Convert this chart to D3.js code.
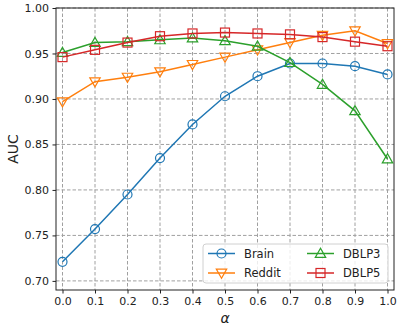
<!DOCTYPE html>
<html>
<head>
<meta charset="utf-8">
<script src="https://cdn.jsdelivr.net/npm/d3@7"></script>
<style>
  body { margin: 0; background: #fff; }
  text { font-family: "DejaVu Sans", sans-serif; fill: #222; }
</style>
</head>
<body>
<div id="chart"></div>
<script>
// data
var alphas = [0.0, 0.1, 0.2, 0.3, 0.4, 0.5, 0.6, 0.7, 0.8, 0.9, 1.0];
var brain  = [0.721, 0.757, 0.795, 0.835, 0.872, 0.903, 0.925, 0.939, 0.939, 0.936, 0.927];
var reddit = [0.897, 0.919, 0.924, 0.930, 0.938, 0.946, 0.954, 0.962, 0.970, 0.975, 0.961];
var dblp3  = [0.951, 0.962, 0.963, 0.965, 0.967, 0.964, 0.958, 0.940, 0.916, 0.887, 0.834];
var dblp5  = [0.946, 0.954, 0.962, 0.969, 0.972, 0.973, 0.972, 0.971, 0.968, 0.963, 0.958];
var xTicks = [0.0, 0.1, 0.2, 0.3, 0.4, 0.5, 0.6, 0.7, 0.8, 0.9, 1.0];
var yTicks = [0.70, 0.75, 0.80, 0.85, 0.90, 0.95, 1.00];
var seriesNames = ["Brain", "Reddit", "DBLP3", "DBLP5"];

var series = [
  {name: "Brain",  values: brain,  color: "#1f77b4", marker: "circle"},
  {name: "Reddit", values: reddit, color: "#ff7f0e", marker: "tridown"},
  {name: "DBLP3",  values: dblp3,  color: "#2ca02c", marker: "triup"},
  {name: "DBLP5",  values: dblp5,  color: "#d62728", marker: "square"}
];

var W = 401, H = 328;
var margin = {top: 8, right: 7, bottom: 38, left: 56},
    width = W - margin.left - margin.right,
    height = H - margin.top - margin.bottom;

var svg = d3.select("#chart")
  .append("svg")
    .attr("width", W)
    .attr("height", H)
  .append("g")
    .attr("transform", "translate(" + margin.left + "," + margin.top + ")");

var x = d3.scaleLinear().domain([-0.02, 1.02]).range([0, width]);
var y = d3.scaleLinear().domain([0.69, 1.0]).range([height, 0]);

// grid
svg.append("g").selectAll("line.gx")
  .data(xTicks).enter().append("line")
    .attr("x1", function(d) { return x(d); })
    .attr("x2", function(d) { return x(d); })
    .attr("y1", 0).attr("y2", height)
    .attr("stroke", "#a0a0a0").attr("stroke-width", 1)
    .attr("stroke-dasharray", "3.5,2");
svg.append("g").selectAll("line.gy")
  .data(yTicks).enter().append("line")
    .attr("y1", function(d) { return y(d); })
    .attr("y2", function(d) { return y(d); })
    .attr("x1", 0).attr("x2", width)
    .attr("stroke", "#a0a0a0").attr("stroke-width", 1)
    .attr("stroke-dasharray", "3.5,2");

// axes
var xAxis = svg.append("g")
  .attr("transform", "translate(0," + height + ")")
  .call(d3.axisBottom(x).tickValues(xTicks).tickFormat(d3.format(".1f")).tickSize(3.5).tickPadding(3.5));
var yAxis = svg.append("g")
  .call(d3.axisLeft(y).tickValues(yTicks).tickFormat(d3.format(".2f")).tickSize(3.5).tickPadding(3.5));
[xAxis, yAxis].forEach(function(a) {
  a.select(".domain").remove();
  a.selectAll("text").style("font-size", "11px").attr("fill", "#222");
  a.selectAll("line").attr("stroke", "#222");
});

// frame
svg.append("rect")
  .attr("width", width).attr("height", height)
  .attr("fill", "none").attr("stroke", "#222").attr("stroke-width", 1);

// markers
function drawMarker(g, type, color, cx, cy) {
  if (type === "circle") {
    g.append("circle").attr("cx", cx).attr("cy", cy).attr("r", 4.5)
      .attr("fill", "none").attr("stroke", color).attr("stroke-width", 1.2);
  } else if (type === "square") {
    g.append("rect").attr("x", cx - 4.5).attr("y", cy - 4.5).attr("width", 9).attr("height", 9)
      .attr("fill", "none").attr("stroke", color).attr("stroke-width", 1.2);
  } else {
    var s = 5.2, dir = type === "triup" ? -1 : 1;
    var pts = [[cx, cy + dir * s], [cx - s, cy - dir * s * 0.75], [cx + s, cy - dir * s * 0.75]];
    g.append("path").attr("d", "M" + pts.join("L") + "Z")
      .attr("fill", "none").attr("stroke", color).attr("stroke-width", 1.2);
  }
}

var line = d3.line()
  .x(function(d, i) { return x(alphas[i]); })
  .y(function(d) { return y(d); });

series.forEach(function(s) {
  var g = svg.append("g");
  g.append("path")
    .datum(s.values)
    .attr("d", line)
    .attr("fill", "none")
    .attr("stroke", s.color)
    .attr("stroke-width", 1.5);
  s.values.forEach(function(v, i) {
    drawMarker(g, s.marker, s.color, x(alphas[i]), y(v));
  });
});

// axis labels
svg.append("text")
  .attr("transform", "translate(" + (14 - margin.left) + "," + (height / 2) + ") rotate(-90)")
  .attr("text-anchor", "middle")
  .attr("dominant-baseline", "middle")
  .style("font-size", "14px")
  .text("AUC");
svg.append("text")
  .attr("x", width / 2)
  .attr("y", height + 33)
  .attr("text-anchor", "middle")
  .style("font-size", "14px")
  .style("font-style", "italic")
  .text("α");

// legend
var leg = svg.append("g").attr("transform", "translate(" + (203 - margin.left) + "," + (244 - margin.top) + ")");
leg.append("rect")
  .attr("width", 185).attr("height", 39).attr("rx", 3)
  .attr("fill", "#fff").attr("fill-opacity", 0.8)
  .attr("stroke", "#d0d0d0").attr("stroke-width", 1);
var order = [0, 1, 2, 3];
order.forEach(function(k, j) {
  var s = series[k];
  var col = Math.floor(j / 2), row = j % 2;
  var lx = 5 + col * 99, ly = 9.5 + row * 19.5;
  leg.append("line")
    .attr("x1", lx).attr("x2", lx + 27).attr("y1", ly).attr("y2", ly)
    .attr("stroke", s.color).attr("stroke-width", 1.5);
  drawMarker(leg, s.marker, s.color, lx + 13.5, ly);
  leg.append("text")
    .attr("x", lx + 36).attr("y", ly)
    .attr("dominant-baseline", "central")
    .style("font-size", "11.5px")
    .text(seriesNames[k]);
});
</script>
</body>
</html>
